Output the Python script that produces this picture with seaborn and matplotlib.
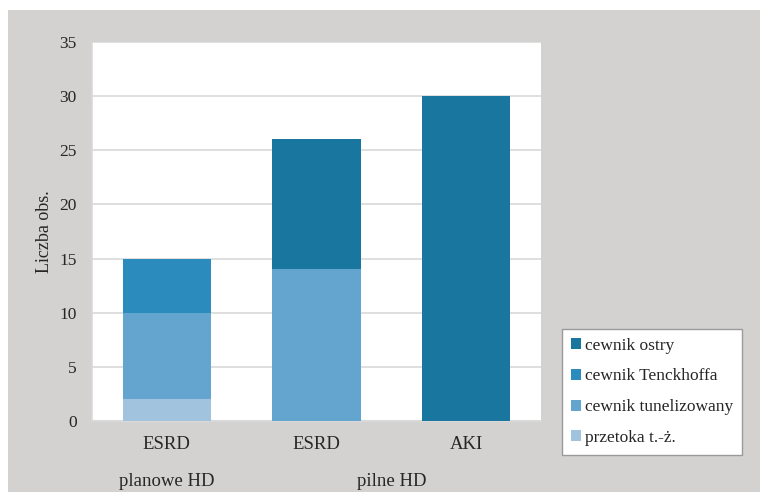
import matplotlib
matplotlib.use("Agg")
import matplotlib.pyplot as plt
from matplotlib.patches import Patch, Rectangle
import numpy as np
import pandas as pd
import seaborn as sns

# Access type counts per patient group (stack order: bottom -> top)
keys = ["planowe|ESRD", "pilne|ESRD", "pilne|AKI"]
tick_labels = ["ESRD", "ESRD", "AKI"]
group_labels = ["planowe HD", "pilne HD"]
group_centers = [0.0, 1.5]

przetoka = [2, 0, 0]
tunelizowany = [8, 14, 0]
tenckhoff = [5, 0, 0]
ostry = [0, 12, 30]

series_names = ["przetoka t.-ż.", "cewnik tunelizowany", "cewnik Tenckhoffa", "cewnik ostry"]
series_values = [przetoka, tunelizowany, tenckhoff, ostry]
series_colors = ["#a2c3de", "#64a5cf", "#2b8bbd", "#19769f"]

bg = "#d4d2d0"
grid_col = "#d9d9d9"

sns.set_style("white")
plt.rcParams["font.family"] = ["Liberation Serif", "DejaVu Serif"]

fig = plt.figure(figsize=(7.6, 4.92), dpi=100)
fig.patch.set_facecolor("white")
fig.patches.append(Rectangle((8 / 760, 0), 1, (492 - 10) / 492,
                             transform=fig.transFigure, facecolor=bg,
                             edgecolor="none", zorder=-10))

ax = fig.add_axes([92 / 760, 1 - 421 / 492, (541 - 92) / 760, (421 - 42) / 492])
ax.set_facecolor("white")

# Stacked bars: draw cumulative totals from the top layer down
cum = np.cumsum(np.array(series_values, dtype=float), axis=0)
for i in range(len(series_names) - 1, -1, -1):
    df = pd.DataFrame({"key": keys, "value": cum[i]})
    sns.barplot(data=df, x="key", y="value", order=keys, color=series_colors[i],
                saturation=1, width=0.59, linewidth=0, ax=ax, zorder=3 + (3 - i) * 0.01)

ax.set_ylim(0, 35)
ax.set_yticks(range(0, 36, 5))
ax.set_xlim(-0.5, 2.5)
ax.set_xticks(range(len(keys)))
ax.set_xticklabels(tick_labels, fontsize=13.5)
ax.tick_params(axis="y", labelsize=12.5, length=0, pad=11)
ax.tick_params(axis="x", length=0, pad=11)
ax.yaxis.grid(True, color=grid_col, linewidth=1.2, zorder=0)
ax.set_axisbelow(True)
ax.set_xlabel("")
ax.set_ylabel("Liczba obs.", fontsize=13)
ax.yaxis.set_label_coords(-0.087, 0.5)

for s in ["top", "right"]:
    ax.spines[s].set_visible(False)
ax.spines["left"].set_color(grid_col)
ax.spines["bottom"].set_color(grid_col)
ax.spines["left"].set_linewidth(1.2)
ax.spines["bottom"].set_linewidth(1.5)

# Group labels under the category ticks
for lbl, xc in zip(group_labels, group_centers):
    ax.text(xc, -0.16, lbl, transform=ax.get_xaxis_transform(),
            ha="center", va="center", fontsize=13.5)

handles = [Patch(facecolor=c, edgecolor="none", label=n)
           for n, c in zip(series_names, series_colors)][::-1]
leg = fig.legend(handles=handles, loc="upper left",
                 bbox_to_anchor=(562 / 760, 1 - 329 / 492),
                 bbox_transform=fig.transFigure, borderaxespad=0,
                 frameon=True, fancybox=False, fontsize=12.5,
                 handlelength=0.6, handleheight=0.6, handletextpad=0.25,
                 labelspacing=0.85, borderpad=0.5)
leg.get_frame().set_edgecolor("#9a9a9a")
leg.get_frame().set_linewidth(1.0)
leg.get_frame().set_facecolor("white")
leg.get_frame().set_alpha(1)

fig.savefig("out.png", dpi=100, facecolor=fig.get_facecolor())
